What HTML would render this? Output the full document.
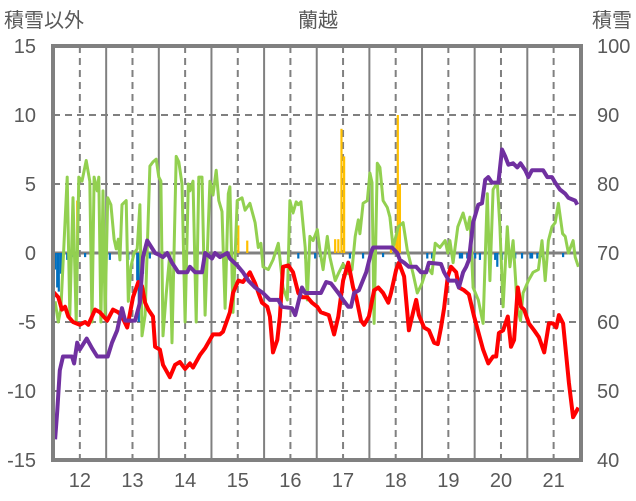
<!DOCTYPE html>
<html><head><meta charset="utf-8"><style>
html,body{margin:0;padding:0;background:#fff;}
svg{display:block;font-family:"Liberation Sans","Noto Sans CJK JP",sans-serif;}
</style></head><body>
<svg id="chart" width="636" height="501" viewBox="0 0 636 501" xmlns="http://www.w3.org/2000/svg">
<text x="4" y="27" font-size="20" fill="#595959">積雪以外</text>
<text x="318" y="27" font-size="20" fill="#595959" text-anchor="middle">蘭越</text>
<text x="632" y="27" font-size="20" fill="#595959" text-anchor="end">積雪</text>
<g id="grid"></g>
<g id="bars"></g>
<g id="lines"></g>
<g id="axes"></g>
</svg>
<script>
const leftTicks=[15,10,5,0,-5,-10,-15];
const rightTicks=[100,90,80,70,60,50,40];
const dayTicks=[12,13,14,15,16,17,18,19,20,21];
const halfDays=[12.5,13.5,14.5,15.5,16.5,17.5,18.5,19.5,20.5];

const redT=[11.49,11.59,11.66,11.72,11.78,11.87,12.00,12.10,12.16,12.29,12.38,12.52,12.63,12.73,12.80,12.90,12.95,13.01,13.11,13.18,13.24,13.30,13.39,13.43,13.52,13.58,13.71,13.81,13.90,14.00,14.09,14.15,14.28,14.38,14.53,14.66,14.72,14.85,14.91,15.01,15.10,15.23,15.33,15.46,15.56,15.61,15.67,15.75,15.80,15.86,15.96,16.05,16.15,16.22,16.32,16.41,16.51,16.58,16.73,16.83,16.91,17.00,17.10,17.19,17.25,17.34,17.40,17.49,17.59,17.67,17.76,17.86,17.91,18.01,18.06,18.16,18.25,18.33,18.39,18.44,18.54,18.63,18.73,18.80,18.86,18.92,18.99,19.05,19.15,19.20,19.30,19.39,19.49,19.66,19.76,19.85,19.91,19.96,20.04,20.13,20.19,20.25,20.32,20.38,20.44,20.53,20.63,20.72,20.82,20.91,20.99,21.05,21.10,21.18,21.29,21.37,21.47];
const redV=[-2.8,-3.2,-4.1,-3.9,-4.6,-5,-5.2,-5,-5.2,-4.1,-4.3,-4.9,-4.1,-4.3,-4.6,-5.4,-4.4,-3.2,-2.1,-2.4,-3.6,-4.1,-4.6,-6.8,-7,-8.1,-9,-8.1,-7.9,-8.4,-8,-8.3,-7.4,-6.9,-5.9,-5.9,-5.7,-4.3,-2.9,-2,-2.1,-1.4,-2.2,-3.6,-3.9,-4.6,-7.2,-6.3,-4.6,-1,-0.9,-1.4,-2.9,-3.2,-3.2,-3.6,-3.9,-4.3,-4.5,-5.9,-4.6,-2,-0.7,-2.5,-3.2,-4.9,-5.2,-4.6,-2.7,-2.5,-2.9,-3.6,-2.9,-1.2,-0.7,-1.7,-5.6,-4.3,-3.4,-4.5,-5.4,-5.6,-6.5,-6.6,-5.4,-4,-1.7,-1,-1.4,-2.5,-2.7,-3,-4.6,-7,-8,-7.5,-7.5,-5.8,-5.6,-4.6,-6.8,-6.3,-2.5,-3.9,-4.1,-5.1,-5.6,-6.1,-7.2,-5.1,-5.1,-5.4,-4.5,-5.1,-9.4,-11.9,-11.2];

const snowT=[11.53,11.57,11.62,11.68,11.85,11.89,11.95,12.00,12.13,12.23,12.33,12.53,12.61,12.71,12.80,12.86,13.05,13.14,13.20,13.28,13.43,13.49,13.58,13.66,13.75,13.87,14.04,14.09,14.19,14.32,14.38,14.51,14.57,14.66,14.80,14.85,14.99,15.10,15.20,15.33,15.48,15.61,15.77,15.84,16.03,16.09,16.22,16.28,16.58,16.68,16.77,16.91,17.00,17.10,17.15,17.21,17.30,17.44,17.53,17.57,17.93,18.03,18.08,18.16,18.25,18.39,18.48,18.58,18.63,18.86,18.92,19.01,19.15,19.20,19.28,19.34,19.39,19.47,19.57,19.64,19.70,19.76,19.83,19.95,20.02,20.08,20.14,20.23,20.31,20.37,20.46,20.52,20.59,20.80,20.88,20.97,21.03,21.12,21.22,21.28,21.41,21.45];
const snowV=[43,47,53,55,55,54,57,56,57.6,56.2,55,55,57,58.8,62,60.2,60.2,62.8,69.4,71.8,70,69.8,69.4,70,68.6,67.2,67.2,68,67.2,67.2,70,69.2,70,69.4,70,69.2,68.2,67.2,66,65,64.2,63.2,63.2,62.2,62,61,65,64.2,64.2,65.8,65.6,64.2,63.2,62.2,62.2,64.2,64.6,67.2,70,70.8,70.8,70,69,68.6,68,68,67.2,67.2,68.6,68.4,67.2,66,66,65,67.2,68,69,74.4,77,77.2,80.6,81,80.2,80.2,85,84,82.8,83,82.4,83,82,81,82,82,81,81,80.2,79.2,78.6,78,77.6,77];

const greenT=[11.53,11.59,11.64,11.76,11.81,11.87,11.93,11.98,12.04,12.12,12.19,12.23,12.27,12.33,12.36,12.40,12.44,12.48,12.53,12.59,12.65,12.69,12.73,12.76,12.80,12.88,12.92,12.97,13.03,13.09,13.14,13.18,13.24,13.33,13.39,13.45,13.50,13.54,13.58,13.64,13.71,13.75,13.83,13.88,13.94,14.00,14.06,14.09,14.15,14.21,14.26,14.32,14.38,14.47,14.53,14.59,14.64,14.70,14.76,14.82,14.85,14.91,14.99,15.08,15.14,15.23,15.33,15.39,15.44,15.48,15.58,15.67,15.77,15.86,15.94,15.99,16.05,16.11,16.15,16.20,16.28,16.32,16.37,16.43,16.51,16.56,16.62,16.70,16.75,16.85,16.91,17.00,17.10,17.17,17.23,17.29,17.32,17.38,17.46,17.51,17.55,17.59,17.65,17.70,17.76,17.84,17.89,17.95,18.05,18.14,18.22,18.33,18.41,18.50,18.60,18.69,18.75,18.84,18.94,18.99,19.03,19.09,19.18,19.28,19.36,19.41,19.47,19.57,19.66,19.74,19.79,19.85,19.93,19.98,20.04,20.12,20.17,20.23,20.31,20.37,20.42,20.52,20.61,20.71,20.78,20.84,20.90,20.97,21.03,21.09,21.17,21.22,21.28,21.37,21.41,21.47];
const greenV=[-3.5,-5,-4,5.5,-4.5,4,-5,5.5,5.2,6.7,5.2,-5,5.5,4.5,5.5,-5,4.5,-4.5,4,3.5,1,0.3,1,-0.5,3.5,3.8,-3.5,-1,0,0.3,3.5,-6,-4.5,6.3,6.6,6.8,5.5,5.2,-6,-3,0,-6.5,7,6.6,5,-5,5,4.5,5.2,-5,5.5,5.5,-4.5,5.2,4.2,6,3.8,3,-4,4.3,4.8,-4.3,3.8,4,3.1,3.6,2.2,0.4,0.7,-1,-1.2,-0.5,0.7,-2.5,-3.4,3.8,2.9,3.7,3.5,3.7,0.4,-3.4,1.2,0.9,1.7,0.2,-1.2,1.2,-0.3,-2,-1.5,-0.8,-1.5,-1.2,1.2,2.4,1.4,3.6,3.8,5.8,5.1,-5.1,6.5,6.2,3.8,3.3,2.6,0.4,1.9,2.2,0.2,-1.5,-2.9,-2.2,-1,-1.5,0.7,0.4,0.9,0,0.9,-0.7,1.9,2.9,1.7,2.6,-2.5,-3.4,-5.1,4.3,-2,4.6,5.1,1.9,-3.9,1.9,-1,0.9,-3.9,-4.9,-2.9,-2,-1.4,-1.2,0.9,-2,0.9,1.9,2.2,3.6,1.4,1.2,0,0.9,-0.3,-1];

const blueT=[11.53,11.57,11.60,11.64,11.68,11.76,11.85,12.10,12.57,12.76,12.92,13.09,13.12,13.16,13.20,13.33,13.62,16.15,16.28,16.47,16.56,17.13,17.38,17.57,17.76,18.60,18.69,19.22,19.26,19.36,19.41,19.51,19.60,19.70,19.79,19.89,19.93,20.02,20.17,20.27,20.40,20.56,20.59,20.69,20.78,21.18];
const blueV=[-1.2,-2.5,-2.8,-1.5,-0.8,-0.5,-0.3,-0.3,-0.5,-0.3,-0.5,-2,-5,-4,-1.5,-0.4,-0.3,-0.4,-0.4,-0.4,-0.3,-0.4,-0.4,-0.5,-0.3,-0.4,-0.4,-0.4,-0.4,-0.4,-0.5,-0.4,-0.5,-0.4,-0.4,-0.5,-1,-0.5,-0.3,-0.4,-0.4,-0.4,-0.4,-0.4,-0.3,-0.3];
const yellowT=[11.95,15.01,15.18,16.85,16.91,16.97,17.02,17.91,18.01,18.04,18.08];
const yellowV=[3.8,2,0.9,1,1,9,7,0.5,1,10,5];

const L=53,R=581,T=46,B=460,D0=11.49,D1=21.52;
const NS="http://www.w3.org/2000/svg";
function X(d){return L+(d-D0)/(D1-D0)*(R-L);}
function Y(v){return B-(v+15)/30*(B-T);}
function YR(r){return B-(r-40)/60*(B-T);}
function mk(tag,attrs,parent){const e=document.createElementNS(NS,tag);for(const k in attrs)e.setAttribute(k,attrs[k]);parent.appendChild(e);return e;}
const grid=document.getElementById('grid'),bars=document.getElementById('bars'),lines=document.getElementById('lines'),axes=document.getElementById('axes');

leftTicks.forEach(v=>{
  if(v===0||v===15||v===-15)return;
  const g=mk('line',{x1:L,x2:R,y1:Y(v),y2:Y(v),stroke:'#808080','stroke-width':2,'stroke-dasharray':'7,5'},grid);
  
  
});
halfDays.forEach(d=>{
  const g=mk('line',{x1:X(d),x2:X(d),y1:T,y2:B,stroke:'#808080','stroke-width':2},grid);
  
  
});
dayTicks.forEach(d=>{
  const g=mk('line',{x1:X(d),x2:X(d),y1:T,y2:B,stroke:'#808080','stroke-width':2,'stroke-dasharray':'7,5'},grid);
  
  
});

const bw=2.2;
blueT.forEach((d,i)=>{
  const r=mk('rect',{x:X(d)-bw/2,y:Y(0),width:bw,height:Y(blueV[i])-Y(0),fill:'#0070c0'},bars);
  
  
});
yellowT.forEach((d,i)=>{
  const r=mk('rect',{x:X(d)-bw/2,y:Y(yellowV[i]),width:bw,height:Y(0)-Y(yellowV[i]),fill:'#ffc000'},bars);
  
  
});

const zl=mk('line',{x1:L,x2:R,y1:Y(0),y2:Y(0),stroke:'#808080','stroke-width':3},grid);



function path(ts,vs,yf){return ts.map((t,i)=>(i?'L':'M')+X(t).toFixed(1)+','+yf(vs[i]).toFixed(1)).join(' ');}
const pg=mk('path',{d:path(greenT,greenV,Y),fill:'none',stroke:'#92d050','stroke-width':3,'stroke-linejoin':'round'},lines);


const pr=mk('path',{d:path(redT,redV,Y),fill:'none',stroke:'#ff0000','stroke-width':4,'stroke-linejoin':'round'},lines);


const pp=mk('path',{d:path(snowT,snowV,YR),fill:'none',stroke:'#7030a0','stroke-width':4,'stroke-linejoin':'round'},lines);



const fr=mk('rect',{x:L,y:T,width:R-L,height:B-T,fill:'none',stroke:'#808080','stroke-width':4},axes);



leftTicks.forEach(v=>{
  const t=mk('text',{x:36,y:Y(v)+7,'font-size':20,fill:'#595959','text-anchor':'end'},axes);
  t.textContent=v;
  
  
});
rightTicks.forEach(v=>{
  const t=mk('text',{x:597,y:YR(v)+7,'font-size':20,fill:'#595959'},axes);
  t.textContent=v;
  
  
});
dayTicks.forEach(d=>{
  const t=mk('text',{x:X(d),y:487,'font-size':20,fill:'#595959','text-anchor':'middle'},axes);
  t.textContent=d;
  
  
});
</script>
</body></html>
